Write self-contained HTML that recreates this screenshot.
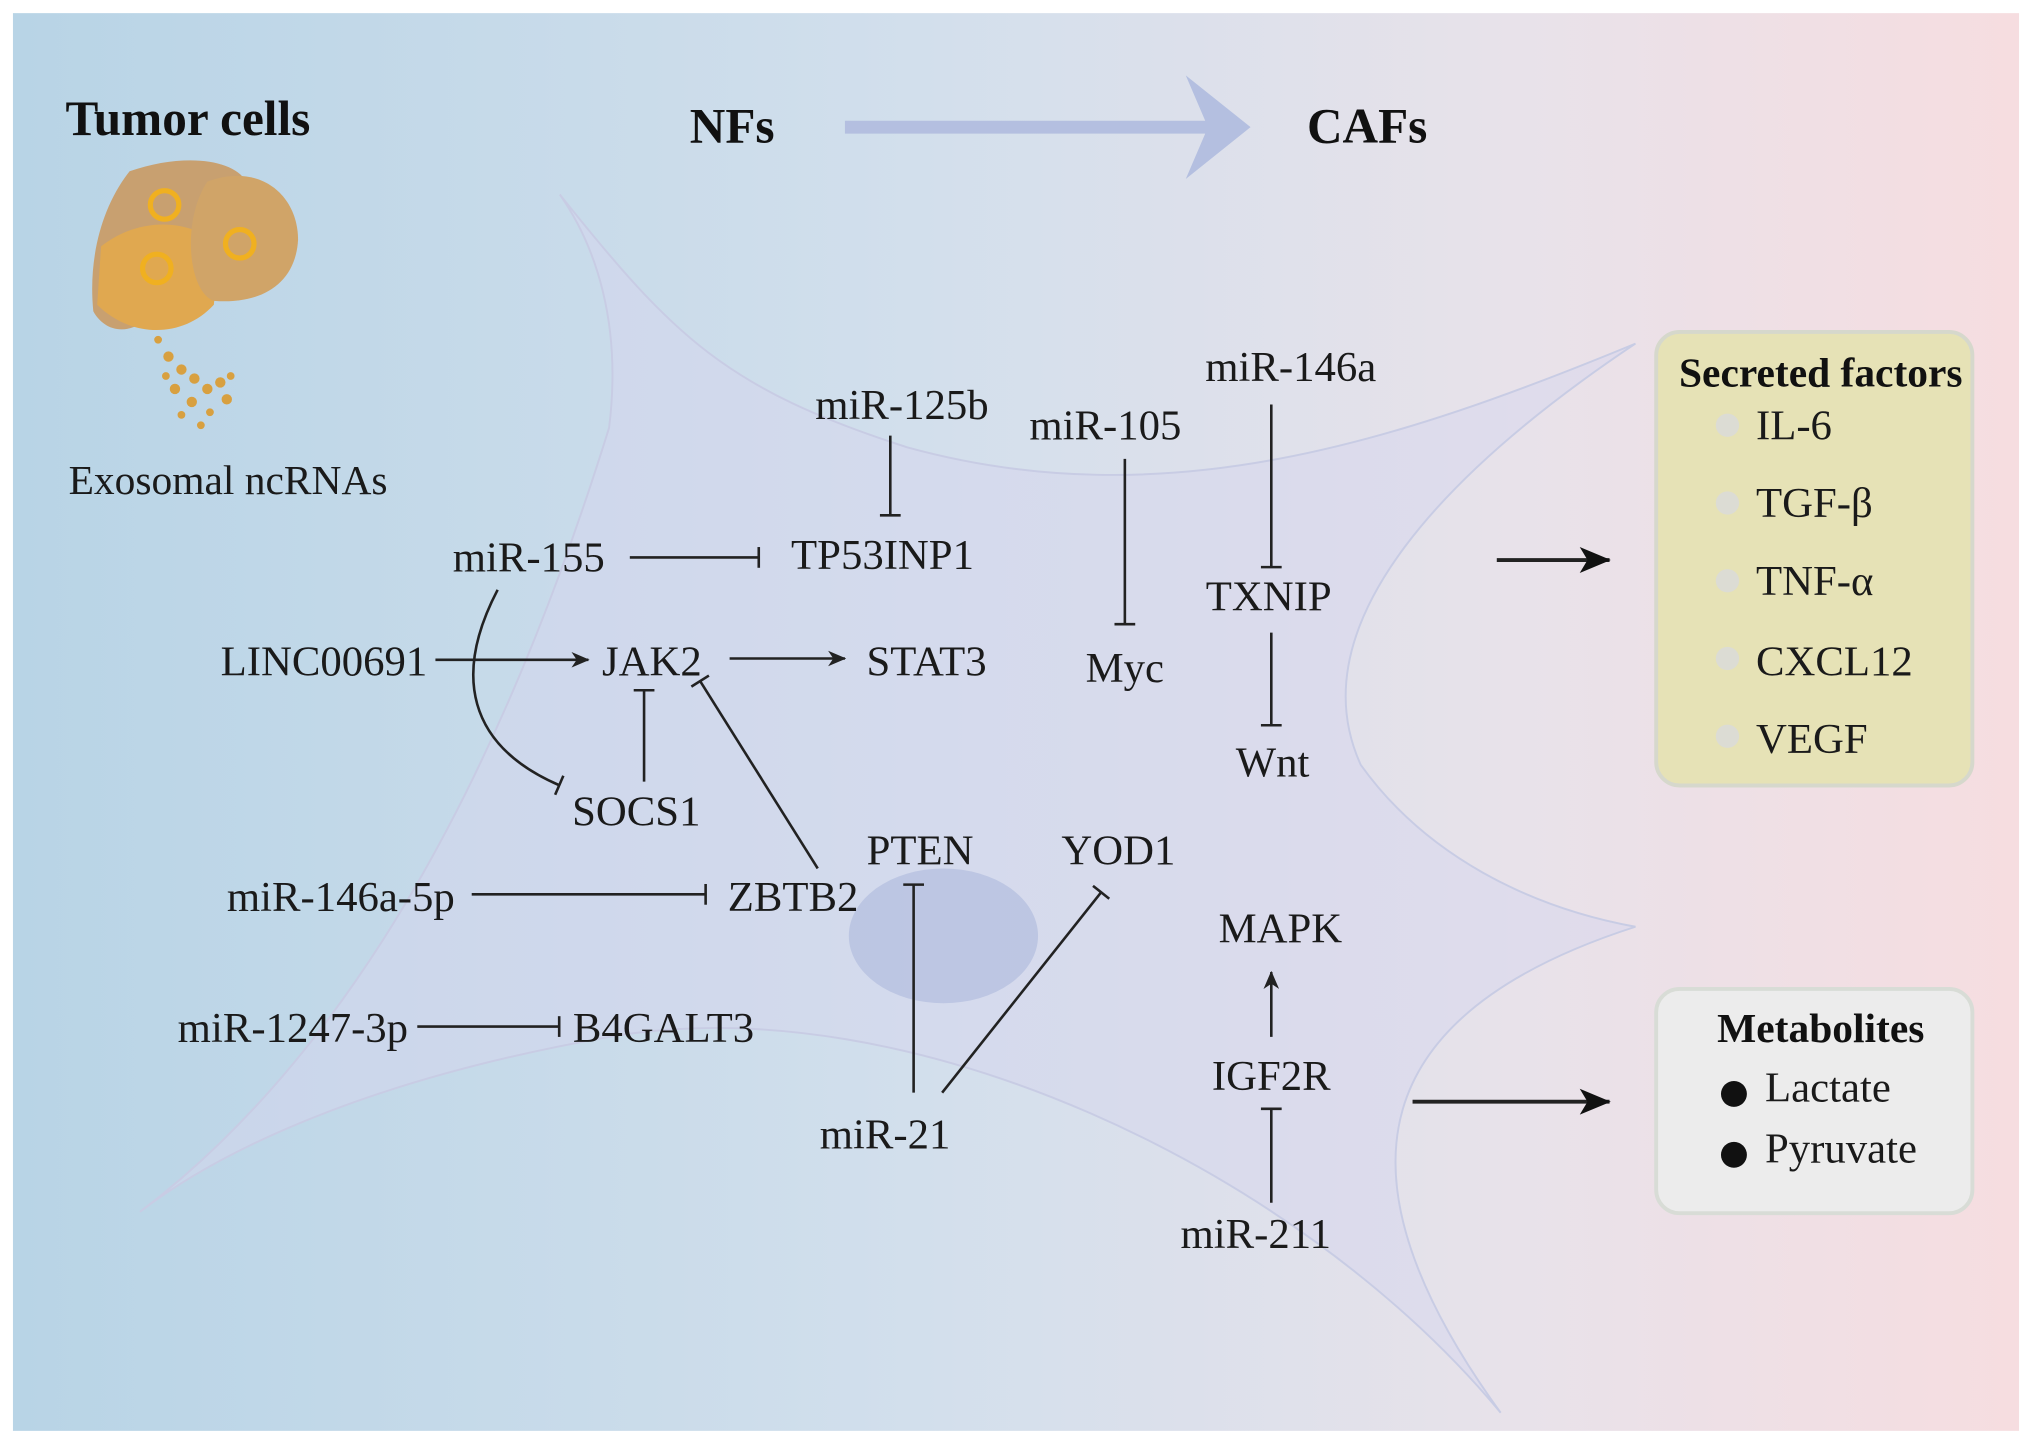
<!DOCTYPE html>
<html><head><meta charset="utf-8"><style>html,body{margin:0;padding:0;background:#fff}svg{display:block}</style></head>
<body>
<svg width="2032" height="1444" viewBox="0 0 1568 1114" xmlns="http://www.w3.org/2000/svg" font-family="Liberation Serif, serif" font-size="33" fill="#1a1a1a">
<defs>
<linearGradient id="bg" x1="0" x2="1" y1="0" y2="0">
<stop offset="0" stop-color="#b8d4e6"/><stop offset="0.45" stop-color="#d2dfec"/><stop offset="0.75" stop-color="#e8e2ea"/><stop offset="1" stop-color="#f6dde0"/></linearGradient>
<marker id="bar" viewBox="0 0 4 20" refX="2" refY="10" markerWidth="4" markerHeight="20" markerUnits="userSpaceOnUse" orient="auto"><rect x="0.5" y="2" width="2" height="16" fill="#222"/></marker>
<marker id="ar" viewBox="0 0 14 12" refX="13" refY="6" markerWidth="14" markerHeight="12" markerUnits="userSpaceOnUse" orient="auto"><path d="M0,0 L14,6 L0,12 L4,6 Z" fill="#222"/></marker>
<marker id="ar2" viewBox="0 0 24 20" refX="23" refY="10" markerWidth="24" markerHeight="20" markerUnits="userSpaceOnUse" orient="auto"><path d="M0,0 L24,10 L0,20 L6,10 Z" fill="#111"/></marker>
</defs>
<rect width="1568" height="1114" fill="#fff"/>
<rect x="10" y="10" width="1548" height="1094" fill="url(#bg)"/>
<path d="M432,150 C520,260 560,300 700,345 C900,400 1080,340 1262,265 C1120,360 1000,480 1050,590 C1100,660 1180,700 1262,715 C1060,780 1020,900 1158,1090 C1000,900 700,760 470,800 C300,830 180,880 108,935 C260,820 380,620 470,330 C480,250 460,190 432,150 Z" fill="#d6d6ee" fill-opacity="0.5" stroke="#c8cce4" stroke-width="1.5"/>
<ellipse cx="728" cy="722" rx="73" ry="52" fill="#b6c0e0" opacity="0.8"/>
<g>
<path d="M100,132 C140,118 180,122 190,140 C175,160 160,170 150,195 L120,240 C100,262 80,255 72,240 C68,200 78,160 100,132 Z" fill="#c8a070"/>
<path d="M78,190 C110,165 150,170 170,190 L165,235 C140,262 100,260 75,235 Z" fill="#e0a850"/>
<path d="M160,140 C200,125 230,150 230,185 C228,220 200,235 165,232 C145,225 140,170 160,140 Z" fill="#d0a468"/>
<circle cx="127" cy="158" r="11" fill="none" stroke="#f0b020" stroke-width="4"/>
<circle cx="121" cy="207" r="11" fill="none" stroke="#f0b020" stroke-width="4"/>
<circle cx="185" cy="188" r="11" fill="none" stroke="#f0b020" stroke-width="4"/>
<g fill="#d8a040">
<circle cx="122" cy="262" r="3"/><circle cx="130" cy="275" r="4"/><circle cx="140" cy="285" r="4"/><circle cx="150" cy="292" r="4"/><circle cx="160" cy="300" r="4"/><circle cx="170" cy="295" r="4"/><circle cx="135" cy="300" r="4"/><circle cx="148" cy="310" r="4"/><circle cx="162" cy="318" r="3"/><circle cx="175" cy="308" r="4"/><circle cx="140" cy="320" r="3"/><circle cx="155" cy="328" r="3"/><circle cx="128" cy="290" r="3"/><circle cx="178" cy="290" r="3"/>
</g>
</g>
<text x="145" y="104" text-anchor="middle" font-weight="bold" font-size="38" fill="#111">Tumor cells</text>
<text x="176" y="381" text-anchor="middle" font-size="32">Exosomal ncRNAs</text>
<text x="565" y="110" text-anchor="middle" font-weight="bold" font-size="38" fill="#111">NFs</text>
<text x="1055" y="110" text-anchor="middle" font-weight="bold" font-size="38" fill="#111">CAFs</text>
<path d="M652,93 L930,93 L915,58 L965,98 L915,138 L930,103 L652,103 Z" fill="#b4bfe0"/>
<g text-anchor="middle">
<text x="408" y="441">miR-155</text>
<text x="681" y="439">TP53INP1</text>
<text x="696" y="323">miR-125b</text>
<text x="853" y="339">miR-105</text>
<text x="996" y="294">miR-146a</text>
<text x="979" y="471">TXNIP</text>
<text x="982" y="599">Wnt</text>
<text x="868" y="526">Myc</text>
<text x="250" y="521">LINC00691</text>
<text x="503" y="521">JAK2</text>
<text x="715" y="521">STAT3</text>
<text x="491" y="637">SOCS1</text>
<text x="612" y="703">ZBTB2</text>
<text x="263" y="703">miR-146a-5p</text>
<text x="710" y="667">PTEN</text>
<text x="863" y="667">YOD1</text>
<text x="683" y="886">miR-21</text>
<text x="226" y="804">miR-1247-3p</text>
<text x="512" y="804">B4GALT3</text>
<text x="988" y="727">MAPK</text>
<text x="981" y="841">IGF2R</text>
<text x="969" y="963">miR-211</text>
</g>
<g stroke="#222" stroke-width="2" fill="none">
<line x1="486" y1="430" x2="586" y2="430" marker-end="url(#bar)"/>
<line x1="687" y1="336" x2="687" y2="398" marker-end="url(#bar)"/>
<line x1="868" y1="354" x2="868" y2="482" marker-end="url(#bar)"/>
<line x1="981" y1="312" x2="981" y2="438" marker-end="url(#bar)"/>
<line x1="981" y1="488" x2="981" y2="560" marker-end="url(#bar)"/>
<line x1="336" y1="509" x2="454" y2="509" marker-end="url(#ar)"/>
<line x1="563" y1="508" x2="652" y2="508" marker-end="url(#ar)"/>
<path d="M384,455 C350,520 360,575 432,606" marker-end="url(#bar)"/>
<line x1="497" y1="603" x2="497" y2="532" marker-end="url(#bar)"/>
<line x1="631" y1="670" x2="540" y2="525" marker-end="url(#bar)"/>
<line x1="364" y1="690" x2="545" y2="690" marker-end="url(#bar)"/>
<line x1="705" y1="843" x2="705" y2="682" marker-end="url(#bar)"/>
<line x1="727" y1="843" x2="850" y2="688" marker-end="url(#bar)"/>
<line x1="322" y1="792" x2="432" y2="792" marker-end="url(#bar)"/>
<line x1="981" y1="800" x2="981" y2="750" marker-end="url(#ar)"/>
<line x1="981" y1="928" x2="981" y2="855" marker-end="url(#bar)"/>
<line x1="1155" y1="432" x2="1242" y2="432" stroke-width="3" marker-end="url(#ar2)"/>
<line x1="1090" y1="850" x2="1242" y2="850" stroke-width="3" marker-end="url(#ar2)"/>
</g>
<rect x="1278" y="256" width="244" height="350" rx="18" fill="#e6e2b6" stroke="#d6d8cc" stroke-width="3"/>
<text x="1405" y="298" text-anchor="middle" font-weight="bold" font-size="32" fill="#111">Secreted factors</text>
<g fill="#dcdcd4"><circle cx="1333" cy="328" r="9"/><circle cx="1333" cy="388" r="9"/><circle cx="1333" cy="448" r="9"/><circle cx="1333" cy="508" r="9"/><circle cx="1333" cy="568" r="9"/></g>
<text x="1355" y="339">IL-6</text>
<text x="1355" y="399">TGF-β</text>
<text x="1355" y="459">TNF-α</text>
<text x="1355" y="521">CXCL12</text>
<text x="1355" y="581">VEGF</text>
<rect x="1278" y="763" width="244" height="173" rx="18" fill="#ececec" stroke="#d8dcd6" stroke-width="3"/>
<text x="1405" y="804" text-anchor="middle" font-weight="bold" font-size="32" fill="#111">Metabolites</text>
<circle cx="1338" cy="844" r="10" fill="#111"/><circle cx="1338" cy="891" r="10" fill="#111"/>
<text x="1362" y="850">Lactate</text>
<text x="1362" y="897">Pyruvate</text>
</svg>
</body></html>
